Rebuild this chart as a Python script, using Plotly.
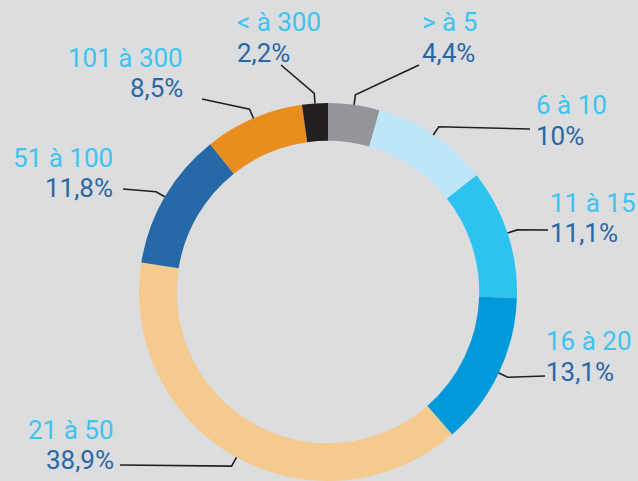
import math
import html
import plotly.graph_objects as go

# ---- data ----
categories = ["> à 5", "6 à 10", "11 à 15", "16 à 20", "21 à 50", "51 à 100", "101 à 300", "< à 300"]
values = [4.4, 10, 11.1, 13.1, 38.9, 11.8, 8.5, 2.2]
pct_labels = ["4,4%", "10%", "11,1%", "13,1%", "38,9%", "11,8%", "8,5%", "2,2%"]

# ---- styles ----
colors = ["#939598", "#bee6f9", "#2dc3f1", "#0199da", "#f4ca8f", "#2768a6", "#e98e1e", "#231f20"]
BG = "#dcdddf"
CAT_COLOR = "#3fc3ef"
PCT_COLOR = "#2b67a5"
LINE_COLOR = "#231f20"
FONT = "Roboto"
FS = 26

W, H = 638, 481
CX, CY, R = 328, 292, 189
HOLE = 0.80
R_ELBOW = R + 10

# label layout: side, text x, y of category line, y of percent line, leader end x, leader end y (pixels)
label_pos = {
    "> à 5":     ("left", 421, 22, 53, 419, 65),
    "6 à 10":    ("left", 535, 105, 136, 530, 129),
    "11 à 15":   ("left", 549, 203, 233, 548, 230),
    "16 à 20":   ("left", 545, 341, 372, 545, 376),
    "21 à 50":   ("right", 115, 430, 460, 120, 465),
    "51 à 100":  ("right", 114, 158, 188, 123, 189),
    "101 à 300": ("right", 184, 58, 88, 202, 99),
    "< à 300":   ("left", 236, 22, 53, 281, 65),
}


def px(x):
    return x / W


def py(y):
    return 1 - y / H


fig = go.Figure()
fig.add_trace(go.Pie(
    values=values,
    labels=categories,
    sort=False,
    direction="clockwise",
    rotation=0,
    hole=HOLE,
    marker=dict(colors=colors, line=dict(width=0)),
    textinfo="none",
    hoverinfo="label+percent",
    showlegend=False,
    domain=dict(x=[px(CX - R), px(CX + R)], y=[0, py(CY - R)]),
))

total = sum(values)
cum = 0.0
shapes = []
annotations = []
for cat, val, pct in zip(categories, values, pct_labels):
    mid = (cum + val / 2) / total * 2 * math.pi
    cum += val
    x0 = CX + R * math.sin(mid)
    y0 = CY - R * math.cos(mid)
    x1 = CX + R_ELBOW * math.sin(mid)
    y1 = CY - R_ELBOW * math.cos(mid)
    side, tx, ty_cat, ty_pct, ex, ey = label_pos[cat]
    path = f"M {px(x0)},{py(y0)} L {px(x1)},{py(y1)} L {px(ex)},{py(ey)}"
    shapes.append(dict(type="path", path=path, xref="paper", yref="paper",
                       line=dict(color=LINE_COLOR, width=1.6)))
    for txt, ty, col in ((cat, ty_cat, CAT_COLOR), (pct, ty_pct, PCT_COLOR)):
        annotations.append(dict(
            text=html.escape(txt), x=px(tx), y=py(ty), xref="paper", yref="paper",
            xanchor=side, yanchor="middle", showarrow=False,
            font=dict(family=FONT, size=FS, color=col, weight=400), borderpad=0,
        ))

fig.update_layout(
    width=W, height=H,
    margin=dict(l=0, r=0, t=0, b=0),
    paper_bgcolor=BG, plot_bgcolor=BG,
    shapes=shapes, annotations=annotations,
)

fig.write_html("out.html")
